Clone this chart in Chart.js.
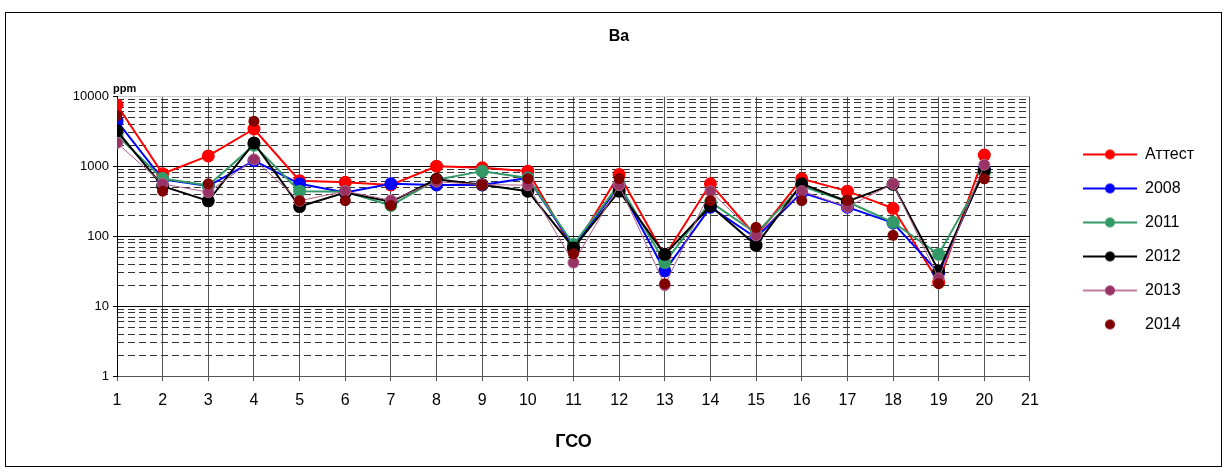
<!DOCTYPE html>
<html>
<head>
<meta charset="utf-8">
<script src="https://cdn.jsdelivr.net/npm/chart.js"></script>
<style>
  body { margin: 0; background: #fff; }
  #box { position: absolute; left: 5px; top: 12px; width: 1215px; height: 453px; border: 1px solid #000; }
  canvas { display: block; }
</style>
</head>
<body>
<div id="box"><canvas id="myChart" width="1215" height="453"></canvas></div>
<script>
// ГСО numbers on the x axis
var gso = [1, 2, 3, 4, 5, 6, 7, 8, 9, 10, 11, 12, 13, 14, 15, 16, 17, 18, 19, 20];

// Ba, ppm
var attest = [7500, 780, 1400, 3400, 620, 590, 540, 1000, 950, 850, 64, 760, 52, 560, 100, 660, 440, 250, 22, 1440];
var y2008  = [4400, 650, 520, 1200, 560, 420, 560, 540, 540, 680, 72, 520, 32, 260, 95, 420, 260, 155, 30, 900];
var y2011  = [2750, 665, 530, 2000, 440, 430, 275, 640, 850, 680, 76, 550, 42, 310, 110, 520, 310, 158, 55, 800];
var y2012  = [3200, 520, 320, 2150, 265, 420, 310, 650, 545, 440, 68, 440, 55, 270, 74, 560, 315, 550, 32, 870];
var y2013  = [2150, 560, 425, 1250, 320, 440, 325, 600, 545, 536, 42, 536, 20, 440, 103, 440, 262, 560, 25, 1050];
var y2014  = [5300, 440, 560, 4400, 322, 322, 275, 660, 545, 665, 56, 665, 21, 322, 134, 322, 325, 103, 21, 660];

// log axis: decades get a solid line + label, the rest dashed
var decades = [1, 10, 100, 1000, 10000];
var steps = [1, 2, 3, 4, 5, 6, 7, 8, 9];

var gridValues = [];
decades.forEach(function (d) {
  steps.forEach(function (s) {
    if (d * s <= 10000) gridValues.push(d * s);
  });
});

function isDecade(v) {
  return decades.indexOf(v) >= 0;
}

function pts(vals) {
  return gso.map(function (g, i) { return { x: g, y: vals[i] }; });
}

// small line+dot pictures for the legend
function icon(color, line, lw) {
  var c = document.createElement("canvas");
  c.width = 54;
  c.height = 12;
  var g = c.getContext("2d");
  if (line) {
    g.strokeStyle = line;
    g.lineWidth = lw;
    g.beginPath();
    g.moveTo(0, 6);
    g.lineTo(54, 6);
    g.stroke();
  }
  g.fillStyle = color;
  g.beginPath();
  g.arc(27, 6, 5, 0, Math.PI * 2);
  g.fill();
  return c;
}

var icons = [
  icon("#ff0000", "#ff0000", 2),
  icon("#0000ff", "#0000ff", 2),
  icon("#339966", "#339966", 2),
  icon("#000000", "#000000", 2),
  icon("#993366", "#c27ba0", 2),
  icon("#800000", null, 0),
];

Chart.defaults.font.family = "'Liberation Sans', Arial, sans-serif";
Chart.defaults.color = "#000";

var ppmLabel = {
  id: "ppmLabel",
  afterDraw: function (chart) {
    var c = chart.ctx;
    c.save();
    c.font = "bold 11px 'Liberation Sans', Arial, sans-serif";
    c.fillStyle = "#000";
    c.textBaseline = "bottom";
    c.fillText("ppm", chart.chartArea.left - 4, chart.chartArea.top - 2);
    c.restore();
  },
};

var ctx = document.getElementById("myChart").getContext("2d");

var myChart = new Chart(ctx, {
  type: "line",
  data: {
    datasets: [
      { label: "Аттест", data: pts(attest), borderColor: "#ff0000", pointBackgroundColor: "#ff0000", borderWidth: 2, order: 6 },
      { label: "2008", data: pts(y2008), borderColor: "#0000ff", pointBackgroundColor: "#0000ff", borderWidth: 2, order: 5 },
      { label: "2011", data: pts(y2011), borderColor: "#339966", pointBackgroundColor: "#339966", borderWidth: 2, order: 4 },
      { label: "2012", data: pts(y2012), borderColor: "#000000", pointBackgroundColor: "#000000", borderWidth: 2, order: 3 },
      { label: "2013", data: pts(y2013), borderColor: "#b0608a", pointBackgroundColor: "#993366", borderWidth: 1, order: 2 },
      { label: "2014", data: pts(y2014), borderColor: "#800000", pointBackgroundColor: "#800000", showLine: false, order: 1 },
    ],
  },
  options: {
    responsive: false,
    animation: false,
    layout: { padding: { left: 28, right: 17, top: 0, bottom: 0 } },
    elements: {
      line: { tension: 0, fill: false },
      point: { radius: 5.5, borderWidth: 0, hoverRadius: 5.5 },
    },
    scales: {
      x: {
        type: "linear",
        min: 1,
        max: 21,
        ticks: { stepSize: 1, font: { size: 16 }, padding: 10, maxRotation: 0 },
        grid: { color: "#555", tickLength: 5, tickColor: "#555" },
        border: { color: "#555" },
        title: { display: true, text: "ГСО", font: { size: 18, weight: "bold" }, padding: { top: 11, bottom: 13 } },
      },
      y: {
        type: "logarithmic",
        min: 1,
        max: 10000,
        afterBuildTicks: function (scale) {
          scale.ticks = gridValues.map(function (v) { return { value: v }; });
        },
        afterFit: function (scale) {
          scale.width = 83;
        },
        ticks: {
          autoSkip: false,
          font: { size: 13 },
          padding: 4,
          callback: function (v) { return isDecade(v) ? String(v) : ""; },
        },
        grid: {
          tickLength: 4,
          color: function (c) {
            if (!c.tick) return "transparent";
            if (c.tick.value === 10000) return "#cccccc";
            return isDecade(c.tick.value) ? "#000" : "transparent";
          },
          tickColor: function (c) {
            return c.tick && isDecade(c.tick.value) ? "#000" : "transparent";
          },
        },
        border: { color: "#000" },
      },
      y2: {
        type: "logarithmic",
        position: "right",
        min: 1,
        max: 10000,
        afterBuildTicks: function (scale) {
          scale.ticks = gridValues.map(function (v) { return { value: v }; });
        },
        afterFit: function (scale) {
          scale.width = 35;
        },
        ticks: { display: false },
        grid: {
          drawTicks: false,
          color: function (c) {
            return c.tick && !isDecade(c.tick.value) ? "#333" : "transparent";
          },
        },
        border: { display: false, dash: [7, 4] },
      },
    },
    plugins: {
      title: {
        display: true,
        text: "Ba",
        font: { size: 16, weight: "bold" },
        padding: { top: 14, bottom: 50 },
      },
      legend: {
        position: "right",
        align: "center",
        labels: {
          usePointStyle: true,
          pointStyleWidth: 54,
          boxHeight: 12,
          padding: 18,
          font: { size: 16 },
          color: "#000",
          generateLabels: function (chart) {
            return chart.data.datasets.map(function (ds, i) {
              return {
                text: ds.label,
                pointStyle: icons[i],
                fillStyle: ds.pointBackgroundColor,
                strokeStyle: "transparent",
                lineWidth: 0,
                hidden: false,
                datasetIndex: i,
                fontColor: "#000",
              };
            });
          },
        },
      },
      tooltip: { enabled: false },
    },
  },
  plugins: [ppmLabel],
});
</script>
</body>
</html>
